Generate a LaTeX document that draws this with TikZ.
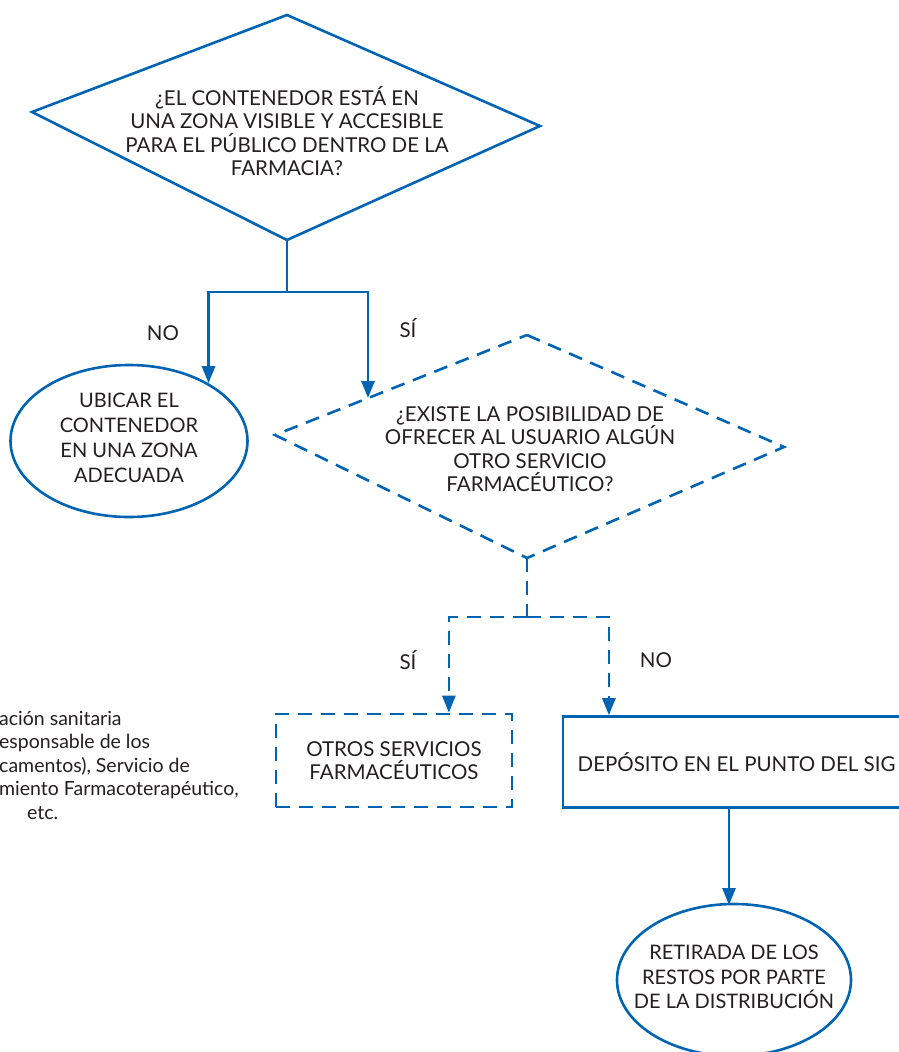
\documentclass[tikz,border=0pt]{standalone}
\usepackage{fontspec}
\setmainfont{Lato}
\usetikzlibrary{arrows.meta,shapes.geometric,calc}
\definecolor{fblue}{RGB}{0,100,178}
\definecolor{ftext}{RGB}{35,31,32}
\begin{document}
\begin{tikzpicture}[x=1pt,y=-1pt,
  flow/.style={draw=fblue, line width=2.6pt, line join=miter},
  dashflow/.style={flow, dash pattern=on 14pt off 9pt},
  arr/.style={-{Triangle[length=17pt,width=13pt]}},
  lbl/.style={text=ftext, font=\fontsize{20.5}{23.5}\selectfont, align=center, inner sep=0pt},
  note/.style={text=ftext, font=\fontsize{19.5}{23.5}\selectfont, align=left, inner sep=0pt},
  ovalbox/.style={ellipse, flow, inner sep=0pt},
  ovaltext/.style={text=ftext, font=\fontsize{20}{24.8}\selectfont, align=center, inner sep=0pt},
  rectbox/.style={rectangle, flow, text=ftext, font=\fontsize{20.5}{23.5}\selectfont, align=center, inner sep=0pt}]
\useasboundingbox (0,0) rectangle (899,1052);
\clip (0,0) rectangle (899,1052);
% top diamond
\coordinate (d1t) at (287,15);
\coordinate (d1l) at (32,112);
\coordinate (d1r) at (540,126);
\coordinate (d1b) at (287,240);
\draw[flow] (d1t) -- (d1r) -- (d1b) -- (d1l) -- cycle;
\node[lbl] (q1) at (287,131) {¿EL CONTENEDOR ESTÁ EN\\UNA ZONA VISIBLE Y ACCESIBLE\\PARA EL PÚBLICO DENTRO DE LA\\FARMACIA?};
% dashed diamond
\coordinate (d2t) at (527,335);
\coordinate (d2l) at (275,435);
\coordinate (d2r) at (784,447);
\coordinate (d2b) at (527,558);
\draw[dashflow] (d2t) -- (d2r) -- (d2b) -- (d2l) -- cycle;
\node[lbl] (q2) at (530,449) {¿EXISTE LA POSIBILIDAD DE\\OFRECER AL USUARIO ALGÚN\\OTRO SERVICIO\\FARMACÉUTICO?};
\coordinate (d2in) at (368,398);
% left ellipse
\node[ovalbox, minimum width=237pt, minimum height=152pt] (ubicar) at (129,441) {};
\node[ovaltext] (ubicart) at (129,438) {UBICAR EL\\CONTENEDOR\\EN UNA ZONA\\ADECUADA};
% branch 1
\coordinate (j1) at (287,292);
\draw[flow] (d1b) -- (j1);
\draw[flow,arr] (j1) -| (ubicar.36);
\draw[flow,arr] (j1) -| (d2in);
\node[lbl] (no1) at (163,333) {NO};
\node[lbl] (si1) at (408,328) {SÍ};
% lower boxes
\node[rectbox, dashflow, minimum width=236pt, minimum height=93pt] (otros) at (394,760.5) {OTROS SERVICIOS\\FARMACÉUTICOS};
\node[rectbox, minimum width=347pt, minimum height=91pt] (dep) at (736.5,762) {DEPÓSITO EN EL PUNTO DEL SIG};
% branch 2
\coordinate (j2) at (527,617);
\coordinate (otin) at ($(otros.north west)!0.73!(otros.north east)$);
\coordinate (depin) at ($(dep.north west)!0.135!(dep.north east)$);
\draw[dashflow] (d2b) -- (j2);
\draw[dashflow,arr] (j2) -| (otin);
\draw[dashflow,arr] (j2) -| (depin);
\node[lbl] (si2) at (408,660) {SÍ};
\node[lbl] (no2) at (656,660) {NO};
% bottom ellipse
\node[ovalbox, minimum width=234pt, minimum height=152pt] (ret) at (734,980) {};
\node[ovaltext] (rett) at (734,977) {RETIRADA DE LOS\\RESTOS POR PARTE\\DE LA DISTRIBUCIÓN};
\coordinate (retin) at (729,905);
\draw[flow,arr] (dep.south -| retin) -- (retin);
% left note (clipped)
\node[note, anchor=north west] (nota) at (-1,711) {ación sanitaria\\esponsable de los\\camentos), Servicio de\\miento Farmacoterapéutico,\\\hspace*{28pt}etc.};
\end{tikzpicture}
\end{document}
